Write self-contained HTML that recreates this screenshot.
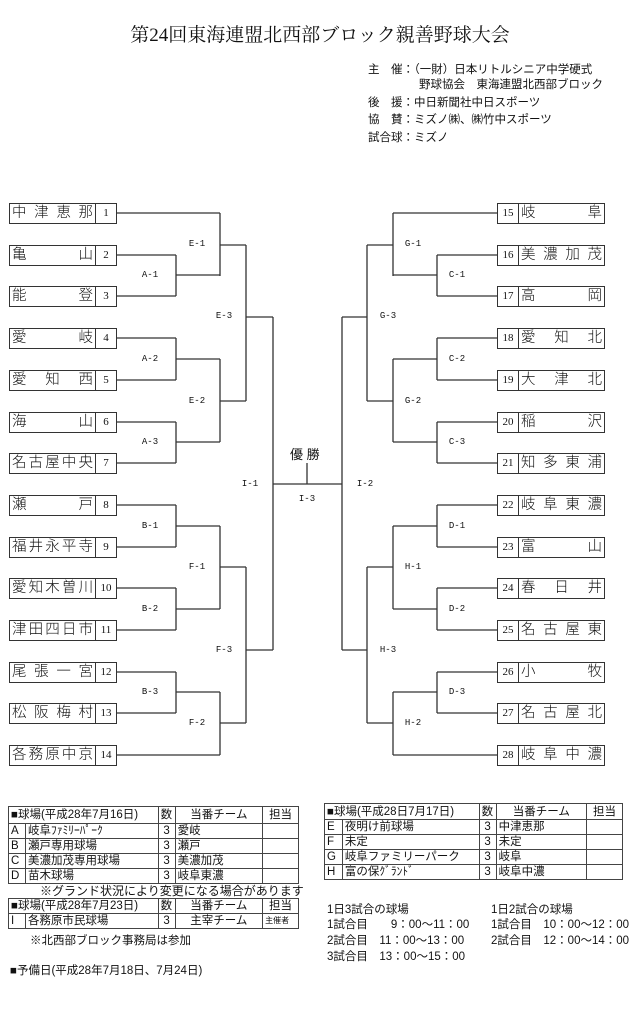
<!DOCTYPE html>
<html><head><meta charset="utf-8"><style>
*{margin:0;padding:0;box-sizing:border-box}
body{width:640px;height:1027px;background:#fff;position:relative;font-family:"Liberation Sans","Noto Sans CJK JP",sans-serif;color:#111;overflow:hidden}
.a{position:absolute;white-space:nowrap}
.title{left:0;width:640px;text-align:center;top:20px;font-size:19px;font-family:"Liberation Serif","Noto Serif CJK SC",serif}
.info{font-size:11.5px;left:368px}
.box{position:absolute;height:21px;border:1px solid #333;display:flex;font-size:14.5px;line-height:19px;background:#fff;font-family:"Liberation Sans","Noto Sans CJK JP",sans-serif;font-weight:300}
.nm{flex:1;display:flex;justify-content:space-between;padding:0 2px}
.no{width:21px;text-align:center;font-size:11px;font-family:"Liberation Serif",serif}
.L .no{border-left:1px solid #333}
.R .no{border-right:1px solid #333}
.lb{position:absolute;font-size:9px;font-family:"Liberation Mono",monospace;width:40px;text-align:center}
table{position:absolute;border-collapse:collapse;font-size:11.5px}
td{border:1px solid #444;padding:0 2px;height:15px;line-height:14px;white-space:nowrap}
.t{font-size:11.5px}
</style></head><body>
<div class="a title">第24回東海連盟北西部ブロック親善野球大会</div>
<div class="a info" style="top:61px">主　催：（一財）日本リトルシニア中学硬式</div>
<div class="a info" style="top:76px;left:419px">野球協会　東海連盟北西部ブロック</div>
<div class="a info" style="top:94px">後　援：中日新聞社中日スポーツ</div>
<div class="a info" style="top:111px">協　賛：ミズノ㈱、㈱竹中スポーツ</div>
<div class="a info" style="top:129px">試合球：ミズノ</div>

<svg class="a" style="left:0;top:0" width="640" height="800" stroke="#333" stroke-width="1.3" fill="none">
<path d="M116 213H220M116 255H176M116 296H176M176 255V296M176 275H220M220 213V276M220 245H246"/>
<path d="M116 338H176M116 380H176M176 338V380M176 359H220M116 422H176M116 463H176M176 422V463M176 442H220M220 359V442M220 401H246M246 245V401M246 317H273"/>
<path d="M116 505H176M116 547H176M176 505V547M176 526H220M116 588H176M116 630H176M176 588V630M176 609H220M220 526V609M220 567H246"/>
<path d="M116 672H176M116 713H176M176 672V713M176 692H220M116 755H220M220 692V755M220 723H246M246 567V723M246 650H273M273 317V650"/>
<path d="M273 484H342M307 463V484"/>
<path d="M497 213H393M497 255H437M497 296H437M437 255V296M437 275H393M393 213V276M393 245H367"/>
<path d="M497 338H437M497 380H437M437 338V380M437 359H393M497 422H437M497 463H437M437 422V463M437 442H393M393 359V442M393 401H367M367 245V401M367 317H342"/>
<path d="M497 505H437M497 547H437M437 505V547M437 526H393M497 588H437M497 630H437M437 588V630M437 609H393M393 526V609M393 567H367"/>
<path d="M497 672H437M497 713H437M437 672V713M437 692H393M497 755H393M393 692V755M393 723H367M367 567V723M367 650H342M342 317V650"/>
</svg>

<div class="a" style="left:290px;top:444px;font-size:13px">優 勝</div>
<div class="lb" style="left:130px;top:270px">A-1</div>
<div class="lb" style="left:177px;top:239px">E-1</div>
<div class="lb" style="left:204px;top:311px">E-3</div>
<div class="lb" style="left:130px;top:354px">A-2</div>
<div class="lb" style="left:177px;top:396px">E-2</div>
<div class="lb" style="left:130px;top:437px">A-3</div>
<div class="lb" style="left:230px;top:479px">I-1</div>
<div class="lb" style="left:287px;top:494px">I-3</div>
<div class="lb" style="left:345px;top:479px">I-2</div>
<div class="lb" style="left:130px;top:521px">B-1</div>
<div class="lb" style="left:177px;top:562px">F-1</div>
<div class="lb" style="left:130px;top:604px">B-2</div>
<div class="lb" style="left:204px;top:645px">F-3</div>
<div class="lb" style="left:130px;top:687px">B-3</div>
<div class="lb" style="left:177px;top:718px">F-2</div>
<div class="lb" style="left:393px;top:239px">G-1</div>
<div class="lb" style="left:437px;top:270px">C-1</div>
<div class="lb" style="left:368px;top:311px">G-3</div>
<div class="lb" style="left:437px;top:354px">C-2</div>
<div class="lb" style="left:393px;top:396px">G-2</div>
<div class="lb" style="left:437px;top:437px">C-3</div>
<div class="lb" style="left:437px;top:521px">D-1</div>
<div class="lb" style="left:393px;top:562px">H-1</div>
<div class="lb" style="left:437px;top:604px">D-2</div>
<div class="lb" style="left:368px;top:645px">H-3</div>
<div class="lb" style="left:437px;top:687px">D-3</div>
<div class="lb" style="left:393px;top:718px">H-2</div>

<div class="L">
<div class="box" style="left:9px;top:203px;width:108px"><div class="nm"><span>中</span><span>津</span><span>恵</span><span>那</span></div><div class="no">1</div></div>
<div class="box" style="left:9px;top:245px;width:108px"><div class="nm"><span>亀</span><span>山</span></div><div class="no">2</div></div>
<div class="box" style="left:9px;top:286px;width:108px"><div class="nm"><span>能</span><span>登</span></div><div class="no">3</div></div>
<div class="box" style="left:9px;top:328px;width:108px"><div class="nm"><span>愛</span><span>岐</span></div><div class="no">4</div></div>
<div class="box" style="left:9px;top:370px;width:108px"><div class="nm"><span>愛</span><span>知</span><span>西</span></div><div class="no">5</div></div>
<div class="box" style="left:9px;top:412px;width:108px"><div class="nm"><span>海</span><span>山</span></div><div class="no">6</div></div>
<div class="box" style="left:9px;top:453px;width:108px"><div class="nm"><span>名</span><span>古</span><span>屋</span><span>中</span><span>央</span></div><div class="no">7</div></div>
<div class="box" style="left:9px;top:495px;width:108px"><div class="nm"><span>瀬</span><span>戸</span></div><div class="no">8</div></div>
<div class="box" style="left:9px;top:537px;width:108px"><div class="nm"><span>福</span><span>井</span><span>永</span><span>平</span><span>寺</span></div><div class="no">9</div></div>
<div class="box" style="left:9px;top:578px;width:108px"><div class="nm"><span>愛</span><span>知</span><span>木</span><span>曽</span><span>川</span></div><div class="no">10</div></div>
<div class="box" style="left:9px;top:620px;width:108px"><div class="nm"><span>津</span><span>田</span><span>四</span><span>日</span><span>市</span></div><div class="no">11</div></div>
<div class="box" style="left:9px;top:662px;width:108px"><div class="nm"><span>尾</span><span>張</span><span>一</span><span>宮</span></div><div class="no">12</div></div>
<div class="box" style="left:9px;top:703px;width:108px"><div class="nm"><span>松</span><span>阪</span><span>梅</span><span>村</span></div><div class="no">13</div></div>
<div class="box" style="left:9px;top:745px;width:108px"><div class="nm"><span>各</span><span>務</span><span>原</span><span>中</span><span>京</span></div><div class="no">14</div></div>
</div>
<div class="R">
<div class="box" style="left:497px;top:203px;width:108px"><div class="no">15</div><div class="nm"><span>岐</span><span>阜</span></div></div>
<div class="box" style="left:497px;top:245px;width:108px"><div class="no">16</div><div class="nm"><span>美</span><span>濃</span><span>加</span><span>茂</span></div></div>
<div class="box" style="left:497px;top:286px;width:108px"><div class="no">17</div><div class="nm"><span>高</span><span>岡</span></div></div>
<div class="box" style="left:497px;top:328px;width:108px"><div class="no">18</div><div class="nm"><span>愛</span><span>知</span><span>北</span></div></div>
<div class="box" style="left:497px;top:370px;width:108px"><div class="no">19</div><div class="nm"><span>大</span><span>津</span><span>北</span></div></div>
<div class="box" style="left:497px;top:412px;width:108px"><div class="no">20</div><div class="nm"><span>稲</span><span>沢</span></div></div>
<div class="box" style="left:497px;top:453px;width:108px"><div class="no">21</div><div class="nm"><span>知</span><span>多</span><span>東</span><span>浦</span></div></div>
<div class="box" style="left:497px;top:495px;width:108px"><div class="no">22</div><div class="nm"><span>岐</span><span>阜</span><span>東</span><span>濃</span></div></div>
<div class="box" style="left:497px;top:537px;width:108px"><div class="no">23</div><div class="nm"><span>富</span><span>山</span></div></div>
<div class="box" style="left:497px;top:578px;width:108px"><div class="no">24</div><div class="nm"><span>春</span><span>日</span><span>井</span></div></div>
<div class="box" style="left:497px;top:620px;width:108px"><div class="no">25</div><div class="nm"><span>名</span><span>古</span><span>屋</span><span>東</span></div></div>
<div class="box" style="left:497px;top:662px;width:108px"><div class="no">26</div><div class="nm"><span>小</span><span>牧</span></div></div>
<div class="box" style="left:497px;top:703px;width:108px"><div class="no">27</div><div class="nm"><span>名</span><span>古</span><span>屋</span><span>北</span></div></div>
<div class="box" style="left:497px;top:745px;width:108px"><div class="no">28</div><div class="nm"><span>岐</span><span>阜</span><span>中</span><span>濃</span></div></div>
</div>

<table style="left:8px;top:806px;width:291px">
<colgroup><col style="width:17px"><col style="width:133px"><col style="width:17px"><col style="width:88px"><col style="width:36px"></colgroup>
<tr><td colspan="2" style="height:17px">■球場(平成28年7月16日)</td><td>数</td><td style="text-align:center">当番チーム</td><td style="text-align:center">担当</td></tr>
<tr><td>A</td><td>岐阜ﾌｧﾐﾘｰﾊﾟｰｸ</td><td style="text-align:center">3</td><td>愛岐</td><td></td></tr>
<tr><td>B</td><td>瀬戸専用球場</td><td style="text-align:center">3</td><td>瀬戸</td><td></td></tr>
<tr><td>C</td><td>美濃加茂専用球場</td><td style="text-align:center">3</td><td>美濃加茂</td><td></td></tr>
<tr><td>D</td><td>苗木球場</td><td style="text-align:center">3</td><td>岐阜東濃</td><td></td></tr>
</table>
<div class="a" style="left:40px;top:882px;font-size:12px">※グランド状況により変更になる場合があります</div>
<table style="left:8px;top:898px;width:291px">
<colgroup><col style="width:17px"><col style="width:133px"><col style="width:17px"><col style="width:88px"><col style="width:36px"></colgroup>
<tr><td colspan="2">■球場(平成28年7月23日)</td><td>数</td><td style="text-align:center">当番チーム</td><td style="text-align:center">担当</td></tr>
<tr><td>I</td><td>各務原市民球場</td><td style="text-align:center">3</td><td style="text-align:center">主宰チーム</td><td style="font-size:8px">主催者</td></tr>
</table>
<div class="a t" style="left:30px;top:932px">※北西部ブロック事務局は参加</div>
<div class="a t" style="left:10px;top:962px">■予備日(平成28年7月18日、7月24日)</div>

<table style="left:324px;top:803px;width:299px">
<colgroup><col style="width:18px"><col style="width:137px"><col style="width:17px"><col style="width:91px"><col style="width:36px"></colgroup>
<tr><td colspan="2" style="height:16px">■球場(平成28日7月17日)</td><td>数</td><td style="text-align:center">当番チーム</td><td style="text-align:center">担当</td></tr>
<tr><td>E</td><td>夜明け前球場</td><td style="text-align:center">3</td><td>中津恵那</td><td></td></tr>
<tr><td>F</td><td>未定</td><td style="text-align:center">3</td><td>未定</td><td></td></tr>
<tr><td>G</td><td>岐阜ファミリーパーク</td><td style="text-align:center">3</td><td>岐阜</td><td></td></tr>
<tr><td>H</td><td>富の保ｸﾞﾗﾝﾄﾞ</td><td style="text-align:center">3</td><td>岐阜中濃</td><td></td></tr>
</table>
<div class="a t" style="left:327px;top:901px">1日3試合の球場</div>
<div class="a t" style="left:327px;top:916px">1試合目　　9：00〜11：00</div>
<div class="a t" style="left:327px;top:932px">2試合目　11：00〜13：00</div>
<div class="a t" style="left:327px;top:948px">3試合目　13：00〜15：00</div>
<div class="a t" style="left:491px;top:901px">1日2試合の球場</div>
<div class="a t" style="left:491px;top:916px">1試合目　10：00〜12：00</div>
<div class="a t" style="left:491px;top:932px">2試合目　12：00〜14：00</div>
</body></html>
